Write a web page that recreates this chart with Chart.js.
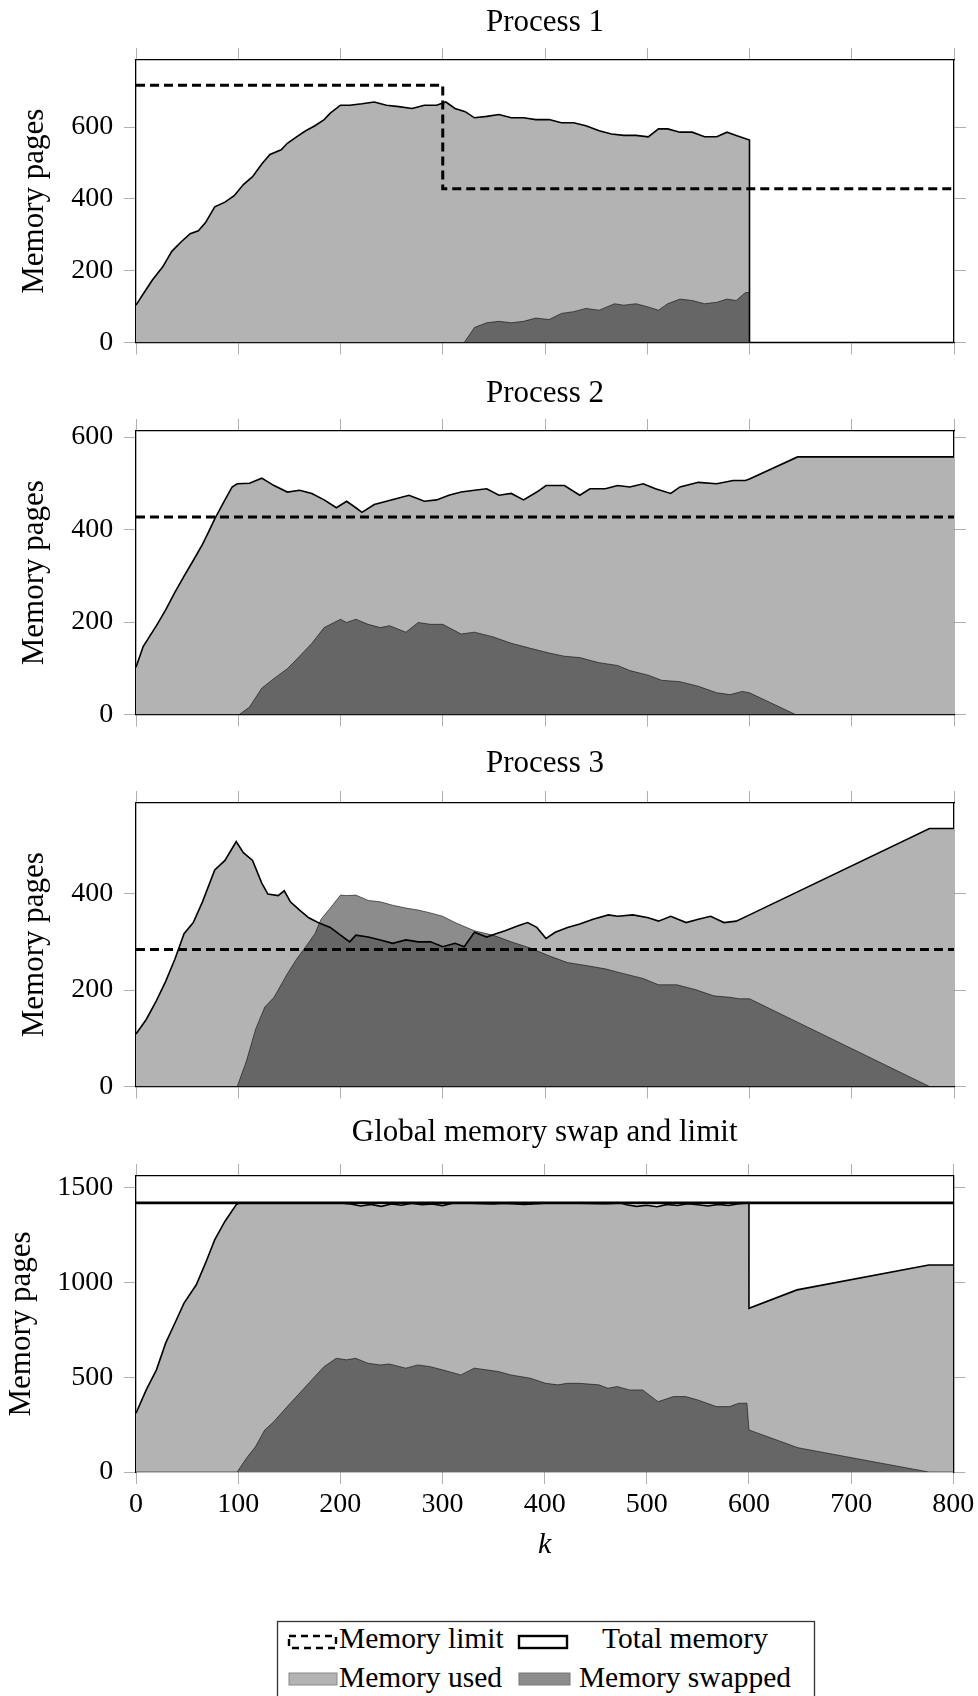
<!DOCTYPE html>
<html><head><meta charset="utf-8">
<script src="https://cdn.jsdelivr.net/npm/chart.js@4.4.1/dist/chart.umd.min.js"></script>
<style>
html,body{margin:0;padding:0;background:#fff}
body{width:978px;height:1696px;overflow:hidden;position:relative}
canvas{position:absolute;left:0}
svg{position:absolute;left:0}
</style></head><body>
<canvas id="c1" width="978" height="370" style="top:0px"></canvas>
<canvas id="c2" width="978" height="371" style="top:371px"></canvas>
<canvas id="c3" width="978" height="373" style="top:741px"></canvas>
<canvas id="c4" width="978" height="470" style="top:1110px"></canvas>
<svg width="978" height="96" style="top:1600px" xmlns="http://www.w3.org/2000/svg" font-family="Liberation Serif, DejaVu Serif, Noto Serif, Times New Roman, serif" font-size="29.5">
  <rect x="277.5" y="21.5" width="537" height="110" fill="#fff" stroke="#333" stroke-width="1.3"/>
  <rect x="289" y="36" width="47" height="12" fill="none" stroke="#000" stroke-width="2.4" stroke-dasharray="7 5"/>
  <text x="339" y="48.3">Memory limit</text>
  <rect x="519" y="36" width="48" height="12" fill="#fff" stroke="#000" stroke-width="2.4"/>
  <text x="685" y="48.3" text-anchor="middle">Total memory</text>
  <rect x="289" y="73" width="48" height="12" fill="#b3b3b3" stroke="#888" stroke-width="1"/>
  <text x="339" y="86.7">Memory used</text>
  <rect x="519" y="73" width="51" height="12" fill="#8c8c8c" stroke="#777" stroke-width="1"/>
  <text x="685" y="86.7" text-anchor="middle">Memory swapped</text>
</svg>
<script>
// ---------- data ----------
const kTicks = [0,100,200,300,400,500,600,700,800];
const p1Ticks = [0,200,400,600];
const p2Ticks = [0,200,400,600];
const p3Ticks = [0,200,400];
const p4Ticks = [0,500,1000,1500];

// Process 1
const p1UsedK = [0,7,16,26,35,44,53,61,68,77,87,96,105,114,123,131,142,148,157,166,175,184,190,200,209,221,233,245,257,270,282,294,303,312,322,331,343,355,367,379,391,404,416,428,440,453,465,477,489,501,511,520,532,544,556,568,578,587,600,600,800];
const p1Used  = [104,135,174,210,254,280,303,311,334,378,391,409,440,462,497,524,537,555,573,590,604,621,639,661,661,665,670,661,657,652,661,661,670,652,643,626,630,635,626,626,621,621,612,612,604,590,581,577,577,573,595,595,586,586,573,573,586,577,564,0,0];
const p1SwapK = [0,321,331,343,355,367,379,391,404,416,428,440,453,468,477,489,501,511,520,532,544,556,568,578,587,596,600,600,800];
const p1Swap  = [0,0,42,55,59,55,59,68,64,81,86,95,90,108,104,108,99,90,108,121,117,108,112,121,117,139,139,0,0];
const p1LimitK = [0,300,300,800];
const p1Limit  = [717,717,428,428];

// Process 2
const p2UsedK = [0,7,13,20,29,38,47,56,65,71,77,87,94,99,111,123,135,148,160,172,184,196,206,215,221,233,245,257,267,282,294,306,318,331,343,355,367,379,392,401,419,434,444,459,471,483,496,508,523,532,550,568,584,596,600,647,800];
const p2Used  = [102,147,168,192,226,264,299,333,368,395,423,464,492,499,500,511,495,481,485,478,464,447,461,447,437,454,461,468,474,461,464,474,481,485,488,474,478,464,481,495,495,474,488,488,495,492,499,488,478,492,502,499,506,506,509,557,557];
const p2SwapK = [0,101,111,123,135,148,160,172,184,200,206,215,227,239,248,264,276,288,300,318,331,349,367,386,404,419,434,453,471,483,501,514,532,550,568,581,593,600,645,800];
const p2Swap  = [0,0,16,57,78,99,126,154,188,206,199,206,195,188,192,178,199,195,195,174,178,168,154,143,133,126,123,112,106,95,85,74,71,61,47,43,50,47,0,0];
const p2LimitK = [0,800];
const p2Limit  = [427,427];

// Process 3
const p3UsedK = [0,10,20,29,38,47,56,65,77,87,98,105,114,123,129,139,145,151,160,169,178,190,200,209,215,227,239,251,264,276,288,300,312,321,331,343,352,361,373,383,392,401,410,422,434,447,462,471,486,501,511,523,538,550,562,575,587,600,776,800];
const p3Used  = [109,139,178,218,264,317,340,383,449,469,508,485,469,422,399,396,406,383,366,350,340,330,314,300,314,310,304,297,304,300,300,290,297,290,320,310,317,323,333,340,330,307,320,330,337,347,356,353,356,350,343,353,340,347,353,340,343,356,535,535];
const p3SwapK = [0,99,108,117,126,135,148,157,166,175,181,190,200,206,215,227,239,251,264,276,288,300,312,331,349,367,386,404,422,440,459,477,496,511,529,547,565,581,590,600,776,800];
const p3Swap  = [0,0,53,119,165,185,234,264,290,317,347,370,397,396,397,386,383,376,370,366,360,353,340,323,314,300,287,271,257,251,244,234,224,211,211,201,188,185,182,182,0,0];
const p3LimitK = [0,800];
const p3Limit  = [284,284];

// Global
const p4UsedK = [0,10,20,29,38,47,59,68,77,87,98,101,200,210,220,230,240,250,260,270,280,290,300,310,320,350,360,380,400,420,460,475,480,490,500,510,520,530,540,550,560,570,580,590,600,600,647,776,800];
const p4Used  = [310,433,539,680,785,891,988,1102,1225,1322,1410,1420,1420,1415,1404,1412,1402,1414,1408,1418,1410,1414,1406,1418,1420,1414,1418,1412,1418,1420,1416,1420,1410,1402,1408,1400,1412,1406,1416,1410,1404,1412,1406,1416,1420,864,961,1092,1092];
const p4SwapK = [0,99,108,117,126,135,148,160,172,184,196,206,215,227,239,248,264,276,288,300,318,331,343,355,367,386,401,413,422,434,453,462,471,483,496,511,526,538,550,568,581,590,598,600,648,776,800];
const p4Swap  = [0,0,72,134,222,266,345,415,486,556,600,592,600,574,565,570,548,565,556,539,512,548,539,530,512,495,468,460,468,468,460,442,451,433,433,371,398,398,380,345,345,363,363,222,128,0,0];
const p4TotalK = [0,800];
const p4Total  = [1420,1420];

// ---------- rendering ----------
Chart.defaults.font.family = '"Liberation Serif", "DejaVu Serif", "Noto Serif", "Times New Roman", serif';
Chart.defaults.color = '#000';

function pts(ks, vs){ return ks.map((k,i)=>({x:k, y:vs[i]})); }

const gridOpts = {drawOnChartArea:false, drawTicks:true, tickLength:12, color:'#b0b0b0', lineWidth:1};
const borderOpts = {display:true, color:'#000', width:1.3};

function panel(id, o){
  const datasets = [
    {data:pts(o.usedK,o.used), borderColor:'#000', borderWidth:1.6, fill:false, pointRadius:0, tension:0, order:0},
    {data:pts(o.refK,o.ref), borderColor:'#000', borderWidth:o.refWidth, borderDash:o.refDash, fill:false, pointRadius:0, tension:0, order:1},
    {data:pts(o.swapK,o.swap), borderColor:'rgba(0,0,0,0.55)', borderWidth:1, backgroundColor:'rgba(25,25,25,0.5)', fill:'origin', pointRadius:0, tension:0, order:2},
    {data:pts(o.usedK,o.used), borderWidth:0, borderColor:'rgba(0,0,0,0)', backgroundColor:'#b3b3b3', fill:'origin', pointRadius:0, tension:0, order:3}
  ];
  const setK = s => { s.ticks = kTicks.map(v=>({value:v})); };
  const setY = s => { s.ticks = o.yTicks.map(v=>({value:v})); };
  new Chart(document.getElementById(id), {
    type:'line',
    data:{datasets},
    options:{
      responsive:false, animation:false, devicePixelRatio:1,
      layout:{padding:0},
      plugins:{legend:{display:false}, tooltip:{enabled:false}, title:{display:false}},
      scales:{
        x:{type:'linear', position:'bottom', min:0, max:800,
           afterBuildTicks:setK, afterFit:s=>{s.height=o.bottomH;},
           grid:gridOpts, border:borderOpts,
           ticks:{display:o.showX, padding:3.7, font:{size:28}, maxRotation:0, autoSkip:false, callback:v=>String(v)},
           title:{display:o.showX, text:'k', font:{size:30, style:'italic'}, padding:{top:0,bottom:17}}},
        xTop:{type:'linear', axis:'x', position:'top', min:0, max:800,
           afterBuildTicks:setK, afterFit:s=>{s.height=o.topH;},
           grid:gridOpts, border:borderOpts,
           ticks:{display:false},
           title:{display:true, text:o.title, font:{size:31}, padding:{top:4.2,bottom:0}}},
        y:{type:'linear', position:'left', min:0, max:o.yMax,
           afterBuildTicks:setY, afterFit:s=>{s.width=136;},
           grid:gridOpts, border:borderOpts,
           ticks:{padding:10.7, font:{size:28}, autoSkip:false, callback:v=>String(v)},
           title:{display:true, text:'Memory pages', font:{size:31}, padding:{top:o.yTitlePad,bottom:0}}},
        yRight:{type:'linear', axis:'y', position:'right', min:0, max:o.yMax,
           afterBuildTicks:setY, afterFit:s=>{s.width=24;},
           grid:gridOpts, border:borderOpts,
           ticks:{display:false}}
      }
    }
  });
}

panel('c1', {title:'Process 1', yMax:787, yTicks:p1Ticks, usedK:p1UsedK, used:p1Used, swapK:p1SwapK, swap:p1Swap,
  refK:p1LimitK, ref:p1Limit, refWidth:3, refDash:[9,5], topH:60, bottomH:14, showX:false, yTitlePad:15.9});
panel('c2', {title:'Process 2', yMax:613, yTicks:p2Ticks, usedK:p2UsedK, used:p2Used, swapK:p2SwapK, swap:p2Swap,
  refK:p2LimitK, ref:p2Limit, refWidth:3, refDash:[9,5], topH:60, bottomH:14, showX:false, yTitlePad:15.9});
panel('c3', {title:'Process 3', yMax:588, yTicks:p3Ticks, usedK:p3UsedK, used:p3Used, swapK:p3SwapK, swap:p3Swap,
  refK:p3LimitK, ref:p3Limit, refWidth:3, refDash:[9,5], topH:62, bottomH:14, showX:false, yTitlePad:15.9});
panel('c4', {title:'Global memory swap and limit', yMax:1562, yTicks:p4Ticks, usedK:p4UsedK, used:p4Used, swapK:p4SwapK, swap:p4Swap,
  refK:p4TotalK, ref:p4Total, refWidth:2.6, refDash:[], topH:66, bottomH:108, showX:true, yTitlePad:3.4});
</script>
</body></html>
